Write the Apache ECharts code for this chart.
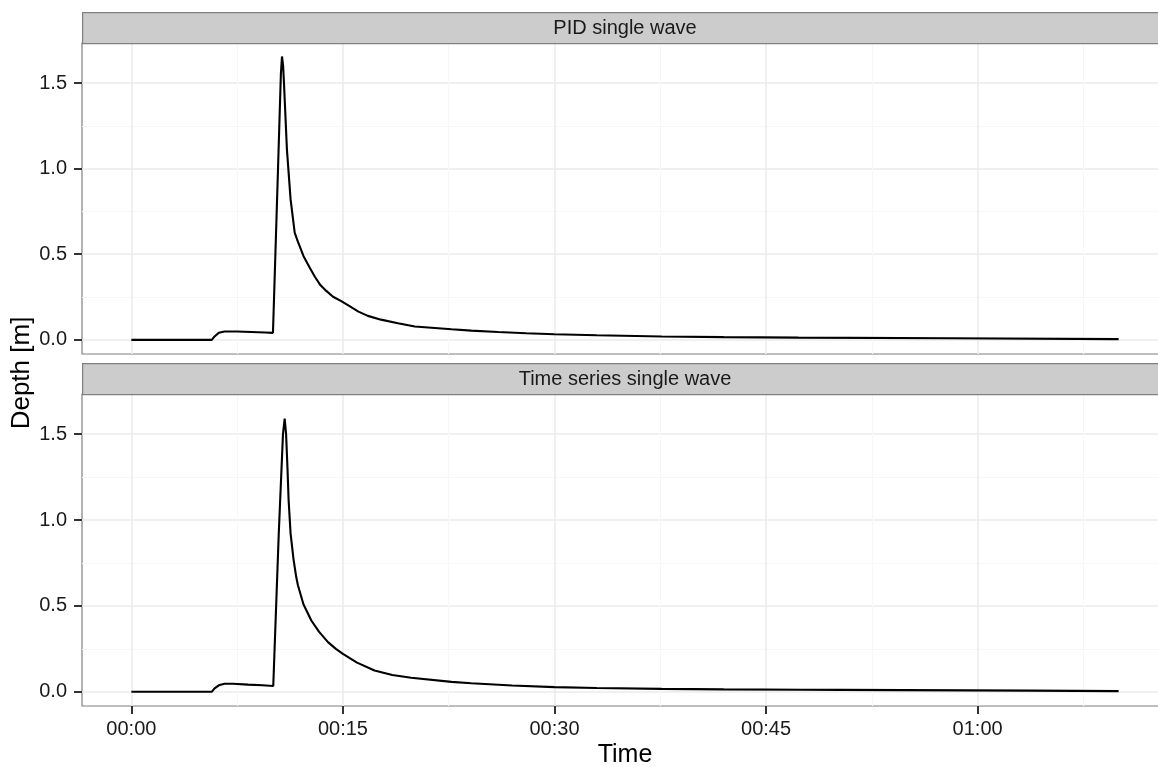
<!DOCTYPE html>
<html><head><meta charset="utf-8">
<script src="https://cdn.jsdelivr.net/npm/echarts@6/dist/echarts.min.js"></script>
<style>html,body{margin:0;padding:0;background:#fff}#c{width:1158px;height:767px}</style>
</head><body><div id="c"></div>
<script>
// ---- data (time in minutes, depth in metres) ----
const panelTitles = ['PID single wave', 'Time series single wave'];
const xTicks = [0, 15, 30, 45, 60];
const xTickLabels = ['00:00', '00:15', '00:30', '00:45', '01:00'];
const xMinor = [7.5, 22.5, 37.5, 52.5, 67.5];
const yTicks = [0, 0.5, 1.0, 1.5];
const yTickLabels = ['0.0', '0.5', '1.0', '1.5'];
const yMinor = [0.25, 0.75, 1.25];
const xTitle = 'Time';
const yTitle = 'Depth [m]';

const pidTime  = [0, 5.7, 5.9, 6.2, 6.6, 7.5, 8.5, 9.5, 10.04, 10.39, 10.6, 10.68, 10.76, 10.82, 11.03, 11.29, 11.58, 11.8, 12.2, 12.64, 13.0, 13.4, 13.82, 14.3, 14.88, 15.5, 16.1, 16.77, 17.7, 18.9, 20.1, 22.7, 24.1, 26, 28, 30, 33, 37.6, 42, 47.3, 47.4, 58.1, 58.2, 70];
const pidDepth = [0, 0, 0.02, 0.042, 0.049, 0.049, 0.046, 0.043, 0.041, 0.977, 1.55, 1.655, 1.6, 1.5, 1.111, 0.82, 0.626, 0.575, 0.49, 0.422, 0.37, 0.32, 0.286, 0.252, 0.226, 0.195, 0.165, 0.14, 0.118, 0.097, 0.078, 0.062, 0.054, 0.046, 0.039, 0.033, 0.027, 0.020, 0.016, 0.013, 0.010, 0.009, 0.005, 0.004];

const tsTime  = [0, 5.7, 5.9, 6.2, 6.6, 7.2, 8.27, 9.3, 10.06, 10.45, 10.75, 10.87, 10.97, 11.07, 11.15, 11.29, 11.5, 11.69, 11.81, 12.2, 12.76, 13.3, 13.94, 14.5, 15.0, 16.0, 17.24, 18.5, 19.84, 22.7, 24.1, 27, 30, 33, 37.6, 42, 47.5, 50.3, 50.4, 63.8, 63.9, 70];
const tsDepth = [0, 0, 0.02, 0.038, 0.047, 0.047, 0.042, 0.038, 0.034, 0.92, 1.5, 1.591, 1.5, 1.3, 1.115, 0.921, 0.77, 0.668, 0.62, 0.51, 0.415, 0.35, 0.289, 0.25, 0.221, 0.17, 0.124, 0.098, 0.082, 0.058, 0.050, 0.037, 0.027, 0.022, 0.017, 0.014, 0.012, 0.011, 0.008, 0.007, 0.004, 0.004];

const X_MIN = -3.5, X_MAX = 73.5;
const Y_MIN = -0.0826, Y_MAX = 1.7336;

// ---- styling ----
const FONT = '"Liberation Sans", Arial, sans-serif';
const MAJOR = '#EBEBEB', MINORC = '#F7F7F7', BORDER = '#7F7F7F', TICK = '#333333';

const grids = [
  {left: 82, top: 43, width: 1086, height: 311},
  {left: 82, top: 394, width: 1086, height: 312}
];

function pairs(t, d) { return t.map((v, i) => [v, d[i]]); }
function lookup(ticks, labels) {
  return function (v) {
    const n = Number(v);
    const i = ticks.findIndex(t => Math.abs(t - n) < 1e-6);
    return i >= 0 ? labels[i] : '';
  };
}

const xAxes = [], yAxes = [];
grids.forEach((g, gi) => {
  const isBottom = gi === grids.length - 1;
  // minor grid axes
  xAxes.push({
    type: 'value', gridIndex: gi, min: X_MIN, max: X_MAX, position: 'bottom',
    axisLine: {show: false, onZero: false}, axisLabel: {show: false},
    axisTick: {show: false, customValues: xMinor},
    splitLine: {show: true, lineStyle: {color: MINORC, width: 1}}
  });
  yAxes.push({
    type: 'value', gridIndex: gi, min: Y_MIN, max: Y_MAX, position: 'left',
    axisLine: {show: false, onZero: false}, axisLabel: {show: false},
    axisTick: {show: false, customValues: yMinor},
    splitLine: {show: true, lineStyle: {color: MINORC, width: 1}}
  });
  // major axes
  xAxes.push({
    type: 'value', gridIndex: gi, min: X_MIN, max: X_MAX, position: 'bottom',
    axisLine: {show: false, onZero: false},
    axisTick: {show: isBottom, customValues: xTicks, length: 8, lineStyle: {color: TICK, width: 2}},
    axisLabel: {show: isBottom, customValues: xTicks, margin: 13,
      formatter: lookup(xTicks, xTickLabels),
      color: '#1A1A1A', fontSize: 20, fontFamily: FONT},
    splitLine: {show: true, lineStyle: {color: MAJOR, width: 1.5}}
  });
  yAxes.push({
    type: 'value', gridIndex: gi, min: Y_MIN, max: Y_MAX, position: 'left',
    axisLine: {show: false, onZero: false},
    axisTick: {show: true, customValues: yTicks, length: 8, lineStyle: {color: TICK, width: 2}},
    axisLabel: {show: true, customValues: yTicks, margin: 15,
      formatter: lookup(yTicks, yTickLabels),
      color: '#1A1A1A', fontSize: 20, fontFamily: FONT},
    splitLine: {show: true, lineStyle: {color: MAJOR, width: 1.5}}
  });
});

const seriesData = [pairs(pidTime, pidDepth), pairs(tsTime, tsDepth)];
const series = seriesData.map((d, gi) => ({
  type: 'line', xAxisIndex: gi * 2 + 1, yAxisIndex: gi * 2 + 1,
  data: d, showSymbol: false, symbol: 'none', smooth: false,
  lineStyle: {color: '#000000', width: 2.1}, z: 5, silent: true
}));

const graphics = [];
const stripH = 31;
grids.forEach((g, gi) => {
  const sy = g.top - stripH;
  graphics.push({
    type: 'rect', left: g.left, top: sy, z: 10,
    shape: {x: 0, y: 0, width: g.width, height: stripH},
    style: {fill: '#CCCCCC', stroke: BORDER, lineWidth: 1.2}
  });
  graphics.push({
    type: 'text', x: g.left + g.width / 2, y: sy + stripH / 2 + 1, z: 11,
    style: {text: panelTitles[gi], font: '20px ' + FONT, fill: '#1A1A1A',
      textAlign: 'center', textVerticalAlign: 'middle'}
  });
});
graphics.push({
  type: 'text', x: grids[0].left + grids[0].width / 2, y: 755, z: 11,
  style: {text: xTitle, font: '25px ' + FONT, fill: '#000', textAlign: 'center', textVerticalAlign: 'middle'}
});
graphics.push({
  type: 'text', x: 22, y: 373, rotation: Math.PI / 2, z: 11,
  style: {text: yTitle, font: '26px ' + FONT, fill: '#000', textAlign: 'center', textVerticalAlign: 'middle'}
});

const chart = echarts.init(document.getElementById('c'), null, {renderer: 'canvas'});
chart.setOption({
  animation: false,
  backgroundColor: '#FFFFFF',
  grid: grids.map(g => Object.assign({show: true, borderColor: BORDER, borderWidth: 1.2,
    backgroundColor: '#FFFFFF', containLabel: false, outerBoundsMode: 'none'}, g)),
  xAxis: xAxes,
  yAxis: yAxes,
  series: series,
  graphic: graphics
});
</script>
</body></html>
